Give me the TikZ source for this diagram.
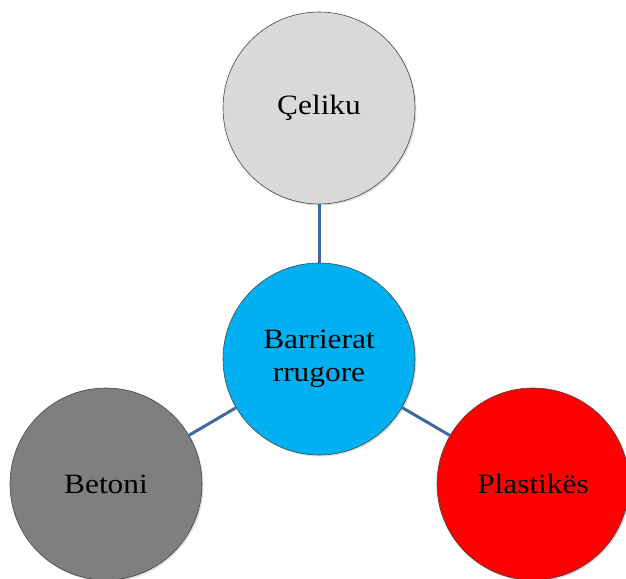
\documentclass[tikz,border=0pt]{standalone}
\usepackage{fontspec}
\usepackage{tikz}
\usetikzlibrary{positioning,calc,shadows}
\newfontfamily\lblfont[FakeStretch=1.12]{Liberation Serif}
\definecolor{clrSteel}{RGB}{217,217,217}
\definecolor{clrCyan}{RGB}{0,176,240}
\definecolor{clrConc}{RGB}{127,127,127}
\definecolor{clrPlas}{RGB}{255,0,0}
\definecolor{clrLink}{RGB}{62,104,158}
\definecolor{clrRim}{RGB}{70,70,70}
\tikzset{
  bubble/.style={circle,draw=clrRim,line width=0.6pt,minimum size=192pt,
    inner sep=0pt,align=center,
    font=\lblfont\fontsize{28}{33}\selectfont,
    drop shadow={shadow xshift=1.5pt,shadow yshift=-1.5pt,opacity=0.25}},
  link/.style={draw=clrLink,line width=3pt}
}
\begin{document}
\begin{tikzpicture}[x=1pt,y=-1pt]
  \useasboundingbox (0,0) rectangle (626,578);

  \node[bubble,fill=clrCyan] (barr) at (319,359) {Barrierat\\rrugore};
  \node[bubble,fill=clrSteel] (celik) at (319,108) {Çeliku};
  \node[bubble,fill=clrConc] (beton) at (106,484) {Betoni};
  \node[bubble,fill=clrPlas] (plast) at (533,484) {Plastikës};

  \draw[link] (celik) -- (barr);
  \draw[link] (barr) -- (beton);
  \draw[link] (barr) -- (plast);
\end{tikzpicture}
\end{document}
